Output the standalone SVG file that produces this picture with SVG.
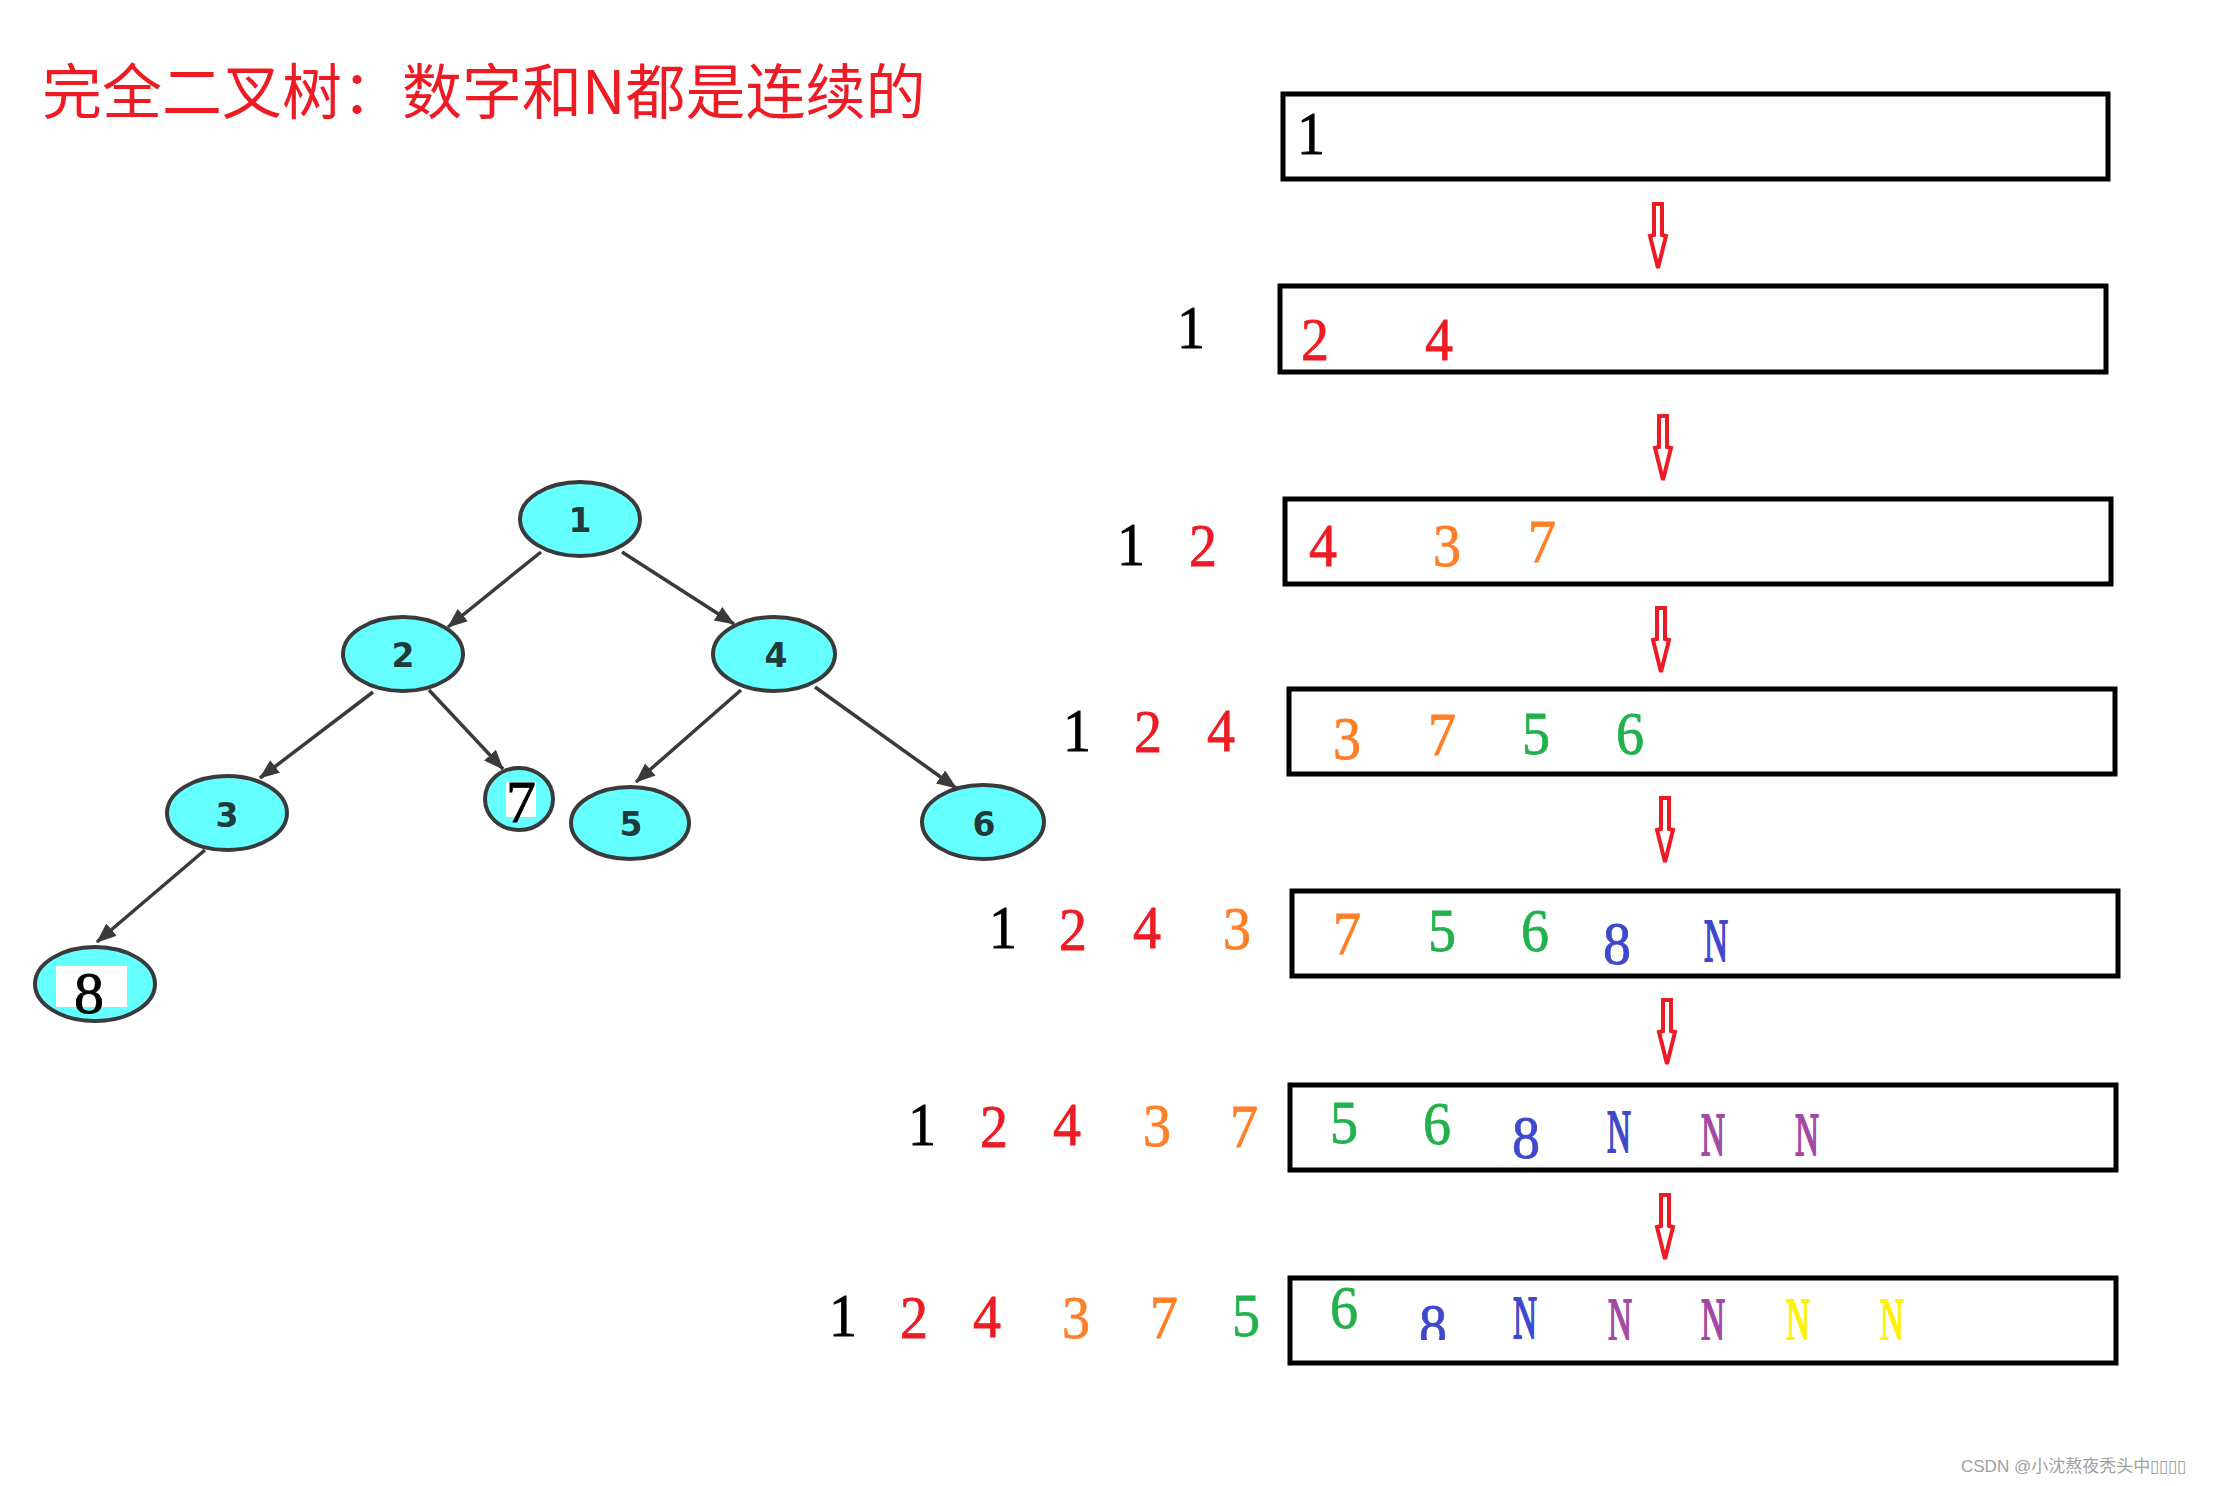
<svg xmlns="http://www.w3.org/2000/svg" width="2215" height="1486" viewBox="0 0 2215 1486">
<style>
.title{font-family:"Noto Sans CJK SC","Noto Sans CJK JP",sans-serif;font-size:60px;fill:#ed1c24}
.d{font-family:"Liberation Serif",serif;font-size:62px;text-anchor:middle;stroke-width:0.8}
.n{stroke-width:2}
.k{fill:#000;stroke:#000}.r{fill:#ed1c24;stroke:#ed1c24}.o{fill:#ff7f27;stroke:#ff7f27}.g{fill:#22b14c;stroke:#22b14c}.b{fill:#3f48cc;stroke:#3f48cc}.p{fill:#a349a4;stroke:#a349a4}.y{fill:#fff200;stroke:#fff200}
.box{fill:none;stroke:#000;stroke-width:5}
.harrow{fill:#fff;stroke:#ed1c24;stroke-width:4;stroke-linejoin:miter}
.node{fill:#66ffff;stroke:#3a3a3a;stroke-width:4}
.nl{font-family:"DejaVu Sans",sans-serif;font-weight:bold;font-size:33px;fill:#1f3a3a;text-anchor:middle}
.edge{stroke:#3a3a3a;stroke-width:3.5;fill:none}
.wm{font-family:"Liberation Sans","Noto Sans CJK SC",sans-serif;font-size:17px;fill:#a0a0a0}
</style>
<defs>
<marker id="ah" markerUnits="userSpaceOnUse" markerWidth="20" markerHeight="16" viewBox="0 0 20 16" refX="19" refY="8" orient="auto">
<path d="M0,0 L20,8 L0,16 Z" fill="#3a3a3a"/>
</marker>
<path id="down" d="M-4,0 H4 V31 L8,32 L0,64 L-8,32 L-4,31 Z"/>
<clipPath id="clip7"><rect x="1290" y="1278" width="825" height="62"/></clipPath>
</defs>
<rect width="2215" height="1486" fill="#fff"/>

<text class="title" x="42" y="114">完全二叉树：数字和N都是连续的</text>

<g id="connectors">
<line class="edge" x1="541" y1="552" x2="448" y2="627" marker-end="url(#ah)"/>
<line class="edge" x1="622" y1="552" x2="734" y2="624" marker-end="url(#ah)"/>
<line class="edge" x1="373" y1="692" x2="260" y2="778" marker-end="url(#ah)"/>
<line class="edge" x1="429" y1="690" x2="503" y2="769" marker-end="url(#ah)"/>
<line class="edge" x1="741" y1="690" x2="636" y2="782" marker-end="url(#ah)"/>
<line class="edge" x1="815" y1="687" x2="956" y2="788" marker-end="url(#ah)"/>
<line class="edge" x1="205" y1="850" x2="97" y2="942" marker-end="url(#ah)"/>
<use href="#down" class="harrow" x="1658" y="204"/>
<use href="#down" class="harrow" x="1663" y="416"/>
<use href="#down" class="harrow" x="1661" y="608"/>
<use href="#down" class="harrow" x="1665" y="798"/>
<use href="#down" class="harrow" x="1667" y="1000"/>
<use href="#down" class="harrow" x="1665" y="1195"/>
</g>

<g id="n1"><ellipse class="node" cx="580" cy="519" rx="60" ry="37"/><text class="nl" x="580" y="532">1</text></g>
<g id="n2"><ellipse class="node" cx="403" cy="654" rx="60" ry="37"/><text class="nl" x="403" y="667">2</text></g>
<g id="n4"><ellipse class="node" cx="774" cy="654" rx="61" ry="37"/><text class="nl" x="776" y="667">4</text></g>
<g id="n3"><ellipse class="node" cx="227" cy="813" rx="60" ry="37"/><text class="nl" x="227" y="827">3</text></g>
<g id="n7"><ellipse class="node" cx="519" cy="799" rx="34" ry="31"/><rect x="506" y="782" width="30" height="35" fill="#fff"/><text class="d k" x="521" y="822" style="font-size:60px">7</text></g>
<g id="n5"><ellipse class="node" cx="630" cy="823" rx="59" ry="36"/><text class="nl" x="631" y="836">5</text></g>
<g id="n6"><ellipse class="node" cx="983" cy="822" rx="61" ry="37"/><text class="nl" x="984" y="836">6</text></g>
<g id="n8"><ellipse class="node" cx="95" cy="984" rx="60" ry="37"/><rect x="56" y="966" width="71" height="41" fill="#fff"/><text class="d k" x="89" y="1013" style="font-size:60px">8</text></g>

<g id="row1">
<rect class="box" x="1283" y="94" width="825" height="85"/>
<text class="d k" x="1311" y="154" textLength="28" lengthAdjust="spacingAndGlyphs">1</text>
</g>
<g id="row2">
<text class="d k" x="1191" y="348" textLength="28" lengthAdjust="spacingAndGlyphs">1</text>
<rect class="box" x="1280" y="286" width="826" height="86"/>
<text class="d r" x="1315" y="360" textLength="28" lengthAdjust="spacingAndGlyphs">2</text>
<text class="d r" x="1439" y="360" textLength="28" lengthAdjust="spacingAndGlyphs">4</text>
</g>
<g id="row3">
<text class="d k" x="1131" y="565" textLength="28" lengthAdjust="spacingAndGlyphs">1</text>
<text class="d r" x="1203" y="566" textLength="28" lengthAdjust="spacingAndGlyphs">2</text>
<rect class="box" x="1285" y="499" width="826" height="85"/>
<text class="d r" x="1323" y="566" textLength="28" lengthAdjust="spacingAndGlyphs">4</text>
<text class="d o" x="1447" y="566" textLength="28" lengthAdjust="spacingAndGlyphs">3</text>
<text class="d o" x="1542" y="562" textLength="28" lengthAdjust="spacingAndGlyphs">7</text>
</g>
<g id="row4">
<text class="d k" x="1077" y="751" textLength="28" lengthAdjust="spacingAndGlyphs">1</text>
<text class="d r" x="1148" y="752" textLength="28" lengthAdjust="spacingAndGlyphs">2</text>
<text class="d r" x="1221" y="751" textLength="28" lengthAdjust="spacingAndGlyphs">4</text>
<rect class="box" x="1289" y="689" width="826" height="85"/>
<text class="d o" x="1347" y="759" textLength="28" lengthAdjust="spacingAndGlyphs">3</text>
<text class="d o" x="1442" y="755" textLength="28" lengthAdjust="spacingAndGlyphs">7</text>
<text class="d g" x="1536" y="754" textLength="28" lengthAdjust="spacingAndGlyphs">5</text>
<text class="d g" x="1630" y="754" textLength="28" lengthAdjust="spacingAndGlyphs">6</text>
</g>
<g id="row5">
<text class="d k" x="1003" y="948" textLength="28" lengthAdjust="spacingAndGlyphs">1</text>
<text class="d r" x="1073" y="950" textLength="28" lengthAdjust="spacingAndGlyphs">2</text>
<text class="d r" x="1147" y="948" textLength="28" lengthAdjust="spacingAndGlyphs">4</text>
<text class="d o" x="1237" y="949" textLength="28" lengthAdjust="spacingAndGlyphs">3</text>
<rect class="box" x="1292" y="891" width="826" height="85"/>
<text class="d o" x="1347" y="954" textLength="28" lengthAdjust="spacingAndGlyphs">7</text>
<text class="d g" x="1442" y="951" textLength="28" lengthAdjust="spacingAndGlyphs">5</text>
<text class="d g" x="1535" y="951" textLength="28" lengthAdjust="spacingAndGlyphs">6</text>
<text class="d b" x="1617" y="964" textLength="28" lengthAdjust="spacingAndGlyphs">8</text>
<text class="d n b" x="1716" y="961" textLength="24" lengthAdjust="spacingAndGlyphs">N</text>
</g>
<g id="row6">
<text class="d k" x="922" y="1145" textLength="28" lengthAdjust="spacingAndGlyphs">1</text>
<text class="d r" x="994" y="1147" textLength="28" lengthAdjust="spacingAndGlyphs">2</text>
<text class="d r" x="1067" y="1145" textLength="28" lengthAdjust="spacingAndGlyphs">4</text>
<text class="d o" x="1157" y="1146" textLength="28" lengthAdjust="spacingAndGlyphs">3</text>
<text class="d o" x="1244" y="1147" textLength="28" lengthAdjust="spacingAndGlyphs">7</text>
<rect class="box" x="1290" y="1085" width="826" height="85"/>
<text class="d g" x="1344" y="1143" textLength="28" lengthAdjust="spacingAndGlyphs">5</text>
<text class="d g" x="1437" y="1144" textLength="28" lengthAdjust="spacingAndGlyphs">6</text>
<text class="d b" x="1526" y="1158" textLength="28" lengthAdjust="spacingAndGlyphs">8</text>
<text class="d n b" x="1619" y="1152" textLength="24" lengthAdjust="spacingAndGlyphs">N</text>
<text class="d n p" x="1713" y="1155" textLength="24" lengthAdjust="spacingAndGlyphs">N</text>
<text class="d n p" x="1807" y="1155" textLength="24" lengthAdjust="spacingAndGlyphs">N</text>
</g>
<g id="row7">
<text class="d k" x="843" y="1336" textLength="28" lengthAdjust="spacingAndGlyphs">1</text>
<text class="d r" x="914" y="1338" textLength="28" lengthAdjust="spacingAndGlyphs">2</text>
<text class="d r" x="987" y="1337" textLength="28" lengthAdjust="spacingAndGlyphs">4</text>
<text class="d o" x="1076" y="1338" textLength="28" lengthAdjust="spacingAndGlyphs">3</text>
<text class="d o" x="1164" y="1338" textLength="28" lengthAdjust="spacingAndGlyphs">7</text>
<text class="d g" x="1246" y="1336" textLength="28" lengthAdjust="spacingAndGlyphs">5</text>
<rect class="box" x="1290" y="1278" width="826" height="85"/>
<g clip-path="url(#clip7)">
<text class="d g" x="1344" y="1328" textLength="28" lengthAdjust="spacingAndGlyphs">6</text>
<text class="d b" x="1433" y="1346" textLength="28" lengthAdjust="spacingAndGlyphs">8</text>
<text class="d n b" x="1525" y="1338" textLength="24" lengthAdjust="spacingAndGlyphs">N</text>
<text class="d n p" x="1620" y="1340" textLength="24" lengthAdjust="spacingAndGlyphs">N</text>
<text class="d n p" x="1713" y="1340" textLength="24" lengthAdjust="spacingAndGlyphs">N</text>
<text class="d n y" x="1798" y="1340" textLength="24" lengthAdjust="spacingAndGlyphs">N</text>
<text class="d n y" x="1892" y="1340" textLength="24" lengthAdjust="spacingAndGlyphs">N</text>
</g>
</g>

<text class="wm" x="1961" y="1472">CSDN @小沈熬夜秃头中▯▯▯▯</text>
</svg>
